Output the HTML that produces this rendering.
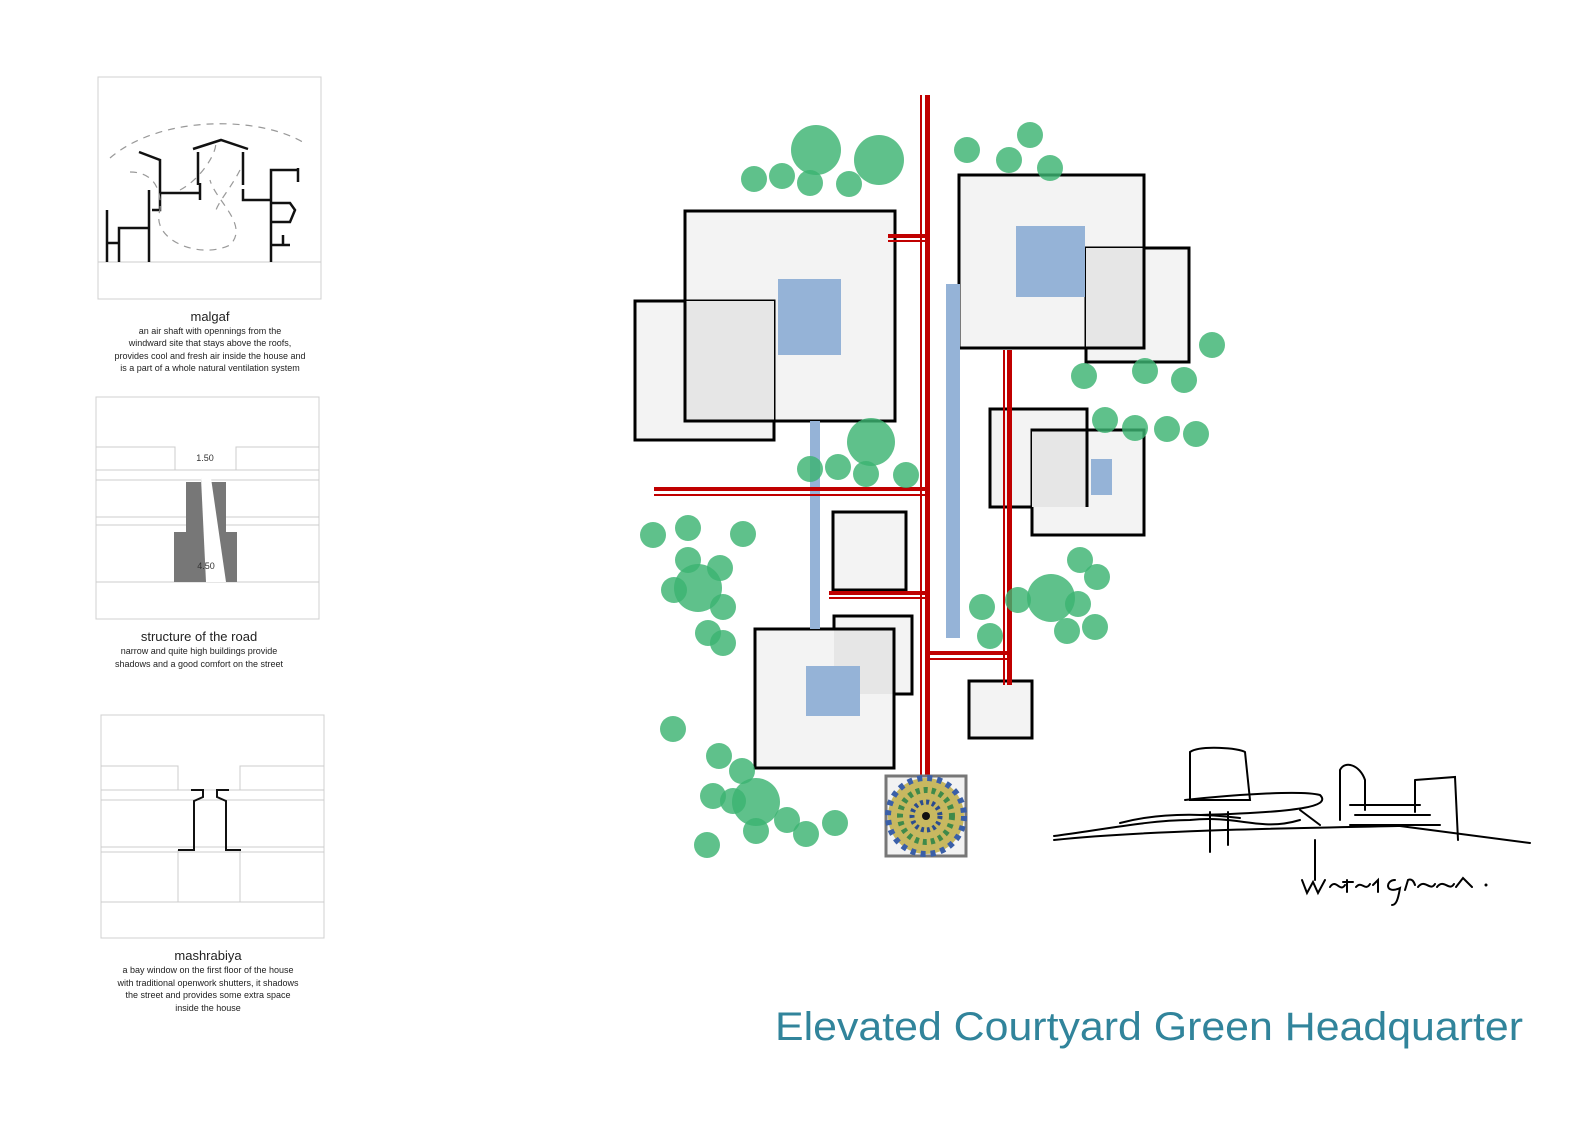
<!DOCTYPE html>
<html><head><meta charset="utf-8"><style>
html,body{margin:0;padding:0;background:#fff;width:1595px;height:1123px;overflow:hidden}
svg{display:block}
.cap{font-family:"Liberation Sans Narrow","Liberation Sans",sans-serif;fill:#222;text-anchor:middle}
</style></head><body>
<svg width="1595" height="1123" viewBox="0 0 1595 1123" xmlns="http://www.w3.org/2000/svg">
<rect width="1595" height="1123" fill="#fff"/>
<!-- Panel 1 malgaf -->
<rect x="98" y="77" width="223" height="222" fill="#fff" stroke="#d0d0d0"/>
<line x1="98" y1="262" x2="321" y2="262" stroke="#ccc"/>
<g fill="none" stroke="#111" stroke-width="2.5">
<path d="M107,210 V262 M107,243 H119 M119,262 V228 H149 M149,262 V190"/>
<path d="M139,152 L160,160 V210 H152 M160,193 H200 M200,183 V200"/>
<path d="M193,149 L221,140 L248,149 M198,152 V185 M243,152 V185 M243,189 V200 H271 M271,262 V170 H298 M298,168 V182 M271,203 H290 L295,210 L290,222 H271 M271,245 H290 M283,235 V245"/>
</g>
<g fill="none" stroke="#999" stroke-width="1.2" stroke-dasharray="7,6">
<path d="M110,158 C160,115 260,115 306,144"/>
<path d="M130,172 C150,172 162,185 160,210 C150,240 200,260 230,245 C250,225 215,200 210,180 M180,190 C200,180 220,150 215,140 M240,170 C230,190 215,205 215,215"/>
</g>
<text class="cap" x="210" y="321" font-size="13">malgaf</text>
<text class="cap" x="210" y="334" font-size="9">an air shaft with opennings from the</text>
<text class="cap" x="210" y="346" font-size="9">windward site that stays above the roofs,</text>
<text class="cap" x="210" y="359" font-size="9">provides cool and fresh air inside the house and</text>
<text class="cap" x="210" y="371" font-size="9">is a part of a whole natural ventilation system</text>
<!-- Panel 2 road -->
<rect x="96" y="397" width="223" height="222" fill="#fff" stroke="#d0d0d0"/>
<g stroke="#ccc" fill="none">
<path d="M96,447 H175 V470 M236,470 V447 H319 M96,470 H319 M96,480 H319 M96,517 H319 M96,525 H319 M96,582 H319"/>
</g>
<polygon points="186,482 201,482 201,478 211,478 211,482 226,482 226,532 237,532 237,582 174,582 174,532 186,532" fill="#777"/>
<polygon points="201,478 211,478 226,582 206,582" fill="#fff"/>
<text x="205" y="461" font-size="9" font-family="Liberation Sans,sans-serif" text-anchor="middle" fill="#333">1.50</text>
<text x="206" y="569" font-size="9" font-family="Liberation Sans,sans-serif" text-anchor="middle" fill="#333">4.50</text>
<text class="cap" x="199" y="641" font-size="13">structure of the road</text>
<text class="cap" x="199" y="654" font-size="9">narrow and quite high buildings provide</text>
<text class="cap" x="199" y="667" font-size="9">shadows and a good comfort on the street</text>
<!-- Panel 3 mashrabiya -->
<rect x="101" y="715" width="223" height="223" fill="#fff" stroke="#d0d0d0"/>
<g stroke="#ccc" fill="none">
<path d="M101,766 H178 V790 M240,790 V766 H324 M101,790 H324 M101,800 H324 M101,847 H324 M101,852 H324 M101,902 H324 M178,850 V902 H240 V850"/>
</g>
<g fill="none" stroke="#111" stroke-width="2">
<path d="M191,790 H203 V797 L194,801 V850 H178"/>
<path d="M229,790 H217 V797 L226,801 V850 H241"/>
</g>
<text class="cap" x="208" y="960" font-size="13">mashrabiya</text>
<text class="cap" x="208" y="973" font-size="9">a bay window on the first floor of the house</text>
<text class="cap" x="208" y="986" font-size="9">with traditional openwork shutters, it shadows</text>
<text class="cap" x="208" y="998" font-size="9">the street and provides some extra space</text>
<text class="cap" x="208" y="1011" font-size="9">inside the house</text>

<!-- Plan -->
<g stroke="#000" stroke-width="3">
<rect x="685" y="211" width="210" height="210" fill="#f3f3f3"/>
<rect x="635" y="301" width="139" height="139" fill="#f3f3f3"/>
<rect x="685" y="301" width="89" height="120" fill="#e6e6e6" stroke="none"/>
<path d="M685,301 V421 H774" fill="none"/>
<rect x="959" y="175" width="185" height="173" fill="#f3f3f3"/>
<rect x="1086" y="248" width="103" height="114" fill="#f3f3f3"/>
<rect x="1086" y="248" width="58" height="100" fill="#e6e6e6" stroke="none"/>
<path d="M1086,348 H1144 V248" fill="none"/>
<rect x="990" y="409" width="97" height="98" fill="#f3f3f3"/>
<rect x="1032" y="430" width="112" height="105" fill="#f3f3f3"/>
<rect x="1032" y="430" width="55" height="77" fill="#e6e6e6" stroke="none"/>
<path d="M1032,430 H1087 V507" fill="none"/>
<rect x="833" y="512" width="73" height="78" fill="#f3f3f3"/>
<rect x="834" y="616" width="78" height="78" fill="#f3f3f3"/>
<rect x="755" y="629" width="139" height="139" fill="#f3f3f3"/>
<rect x="834" y="629" width="60" height="65" fill="#e6e6e6" stroke="none"/>
<path d="M834,629 H894 V694" fill="none"/>
<rect x="969" y="681" width="63" height="57" fill="#f3f3f3"/>
</g>
<g fill="#95b3d7">
<rect x="778" y="279" width="63" height="76"/>
<rect x="1016" y="226" width="69" height="71"/>
<rect x="1091" y="459" width="21" height="36"/>
<rect x="806" y="666" width="54" height="50"/>
<rect x="810" y="421" width="10" height="208"/>
<rect x="946" y="284" width="14" height="354"/>
</g>
<!-- red lines -->
<g fill="#c00000">
<rect x="925" y="95" width="5" height="681"/><rect x="920" y="95" width="2" height="681"/>
<rect x="654" y="487" width="271" height="4"/><rect x="654" y="494" width="271" height="2"/>
<rect x="888" y="234" width="37" height="4"/><rect x="888" y="240" width="37" height="2"/>
<rect x="829" y="591" width="96" height="4"/><rect x="829" y="597" width="96" height="2"/>
<rect x="929" y="651" width="78" height="4"/><rect x="929" y="658" width="78" height="2"/>
<rect x="1007" y="350" width="5" height="335"/><rect x="1003" y="350" width="2" height="335"/>
</g>
<!-- trees -->
<g fill="#3cb371" fill-opacity="0.82">
<circle cx="816" cy="150" r="25"/><circle cx="879" cy="160" r="25"/><circle cx="754" cy="179" r="13"/><circle cx="782" cy="176" r="13"/><circle cx="810" cy="183" r="13"/><circle cx="849" cy="184" r="13"/>
<circle cx="967" cy="150" r="13"/><circle cx="1009" cy="160" r="13"/><circle cx="1030" cy="135" r="13"/><circle cx="1050" cy="168" r="13"/>
<circle cx="1212" cy="345" r="13"/><circle cx="1084" cy="376" r="13"/><circle cx="1145" cy="371" r="13"/><circle cx="1184" cy="380" r="13"/>
<circle cx="1105" cy="420" r="13"/><circle cx="1135" cy="428" r="13"/><circle cx="1167" cy="429" r="13"/><circle cx="1196" cy="434" r="13"/>
<circle cx="871" cy="442" r="24"/><circle cx="810" cy="469" r="13"/><circle cx="838" cy="467" r="13"/><circle cx="866" cy="474" r="13"/><circle cx="906" cy="475" r="13"/>
<circle cx="653" cy="535" r="13"/><circle cx="688" cy="528" r="13"/><circle cx="743" cy="534" r="13"/><circle cx="688" cy="560" r="13"/><circle cx="720" cy="568" r="13"/><circle cx="698" cy="588" r="24"/><circle cx="674" cy="590" r="13"/><circle cx="723" cy="607" r="13"/><circle cx="708" cy="633" r="13"/><circle cx="723" cy="643" r="13"/>
<circle cx="1080" cy="560" r="13"/><circle cx="1097" cy="577" r="13"/><circle cx="1051" cy="598" r="24"/><circle cx="1018" cy="600" r="13"/><circle cx="1078" cy="604" r="13"/><circle cx="982" cy="607" r="13"/><circle cx="1067" cy="631" r="13"/><circle cx="1095" cy="627" r="13"/><circle cx="990" cy="636" r="13"/>
<circle cx="673" cy="729" r="13"/><circle cx="719" cy="756" r="13"/><circle cx="742" cy="771" r="13"/><circle cx="756" cy="802" r="24"/><circle cx="713" cy="796" r="13"/><circle cx="733" cy="801" r="13"/><circle cx="787" cy="820" r="13"/><circle cx="835" cy="823" r="13"/><circle cx="806" cy="834" r="13"/><circle cx="756" cy="831" r="13"/><circle cx="707" cy="845" r="13"/>
</g>
<!-- mosaic -->
<rect x="886" y="776" width="80" height="80" fill="#f2f2f2" stroke="#777" stroke-width="3"/>
<circle cx="926" cy="816" r="38" fill="#c8b860"/>
<circle cx="926" cy="816" r="38" fill="none" stroke="#3a5fa8" stroke-width="6" stroke-dasharray="5,5"/>
<circle cx="926" cy="816" r="26" fill="none" stroke="#3f8a4a" stroke-width="6" stroke-dasharray="4,4"/>
<circle cx="926" cy="816" r="14" fill="none" stroke="#2b4c8f" stroke-width="5" stroke-dasharray="3,3"/>
<circle cx="926" cy="816" r="4" fill="#111"/>
<!-- sketch -->
<g fill="none" stroke="#000" stroke-width="2" stroke-linecap="round">
<path d="M1054,840 C1150,830 1300,828 1400,826 L1530,843"/>
<path d="M1054,836 C1100,830 1150,820 1190,820 C1240,815 1260,832 1300,820"/>
<path d="M1120,823 C1150,815 1190,812 1240,818"/>
<path d="M1190,752 C1200,745 1240,748 1245,752 L1250,800 H1190 Z"/>
<path d="M1185,800 C1230,795 1300,790 1320,795 C1330,805 1310,812 1200,815"/>
<path d="M1210,812 V852 M1228,812 V845 M1300,810 L1320,825"/>
<path d="M1340,770 C1345,760 1360,765 1365,780 L1365,810 M1340,770 V820 M1350,805 H1420 M1355,815 H1430 M1350,825 H1440"/>
<path d="M1415,780 L1455,777 L1458,840 M1415,780 V812"/>
<path d="M1315,840 V880"/>
<path d="M1302,880 L1307,893 L1313,882 L1318,893 L1325,880 M1330,887 C1336,878 1340,893 1345,885 M1347,880 V892 M1343,882 H1353 M1356,887 C1362,880 1365,892 1370,884 M1373,885 L1378,880 V892"/>
<path d="M1395,880 C1385,880 1385,895 1400,888 C1398,900 1396,905 1392,905 M1405,890 L1408,880 C1412,878 1414,882 1415,885 M1418,887 C1425,878 1430,892 1435,884 M1437,887 C1444,878 1449,892 1454,884 M1456,887 L1463,878 L1472,887"/>
</g>
<circle cx="1486" cy="885" r="1.5" fill="#000"/>
<text x="775" y="1040" font-family="Liberation Sans,sans-serif" font-size="40" fill="#31849b" textLength="748" lengthAdjust="spacingAndGlyphs">Elevated Courtyard Green Headquarter</text>
</svg>
</body></html>
